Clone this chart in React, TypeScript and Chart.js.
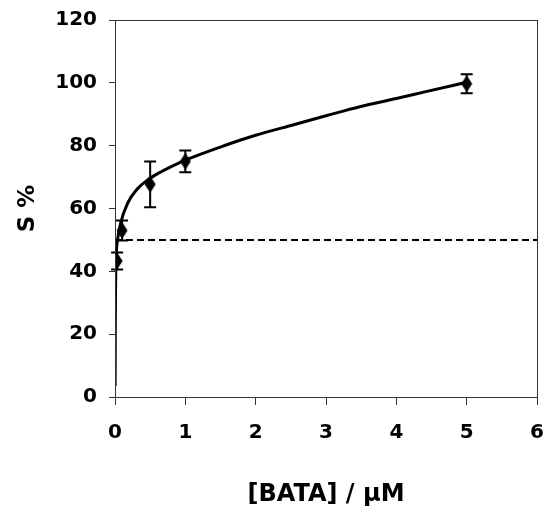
import { useEffect, useRef } from "react";
import { Chart, registerables } from "chart.js";

Chart.register(...registerables);

// Measured points
const concentrations = [0.03, 0.1, 0.5, 1, 5];
const sPercent = [43.3, 53, 67.7, 75, 99.7];
const sError = [2.7, 3.2, 7.3, 3.5, 3.0];

// Fitted curve
const fitX = [0.002, 0.004, 0.007, 0.011, 0.02, 0.036, 0.08, 0.18, 0.32, 0.46, 0.63, 0.75, 1, 1.58, 2, 2.53, 3, 3.48, 4, 4.42, 5.04];
const fitY = [3.5, 20, 33, 41, 46.5, 50, 55.3, 61.7, 66.3, 69, 71.4, 72.8, 75.4, 80.2, 83.3, 86.6, 89.5, 92.4, 95, 97.2, 100.4];

// Dashed reference line
const thresholdX = [0, 6];
const thresholdY = [50, 50];

const xTicks = [0, 1, 2, 3, 4, 5, 6];
const yTicks = [0, 20, 40, 60, 80, 100, 120];

const FONT = "'DejaVu Sans', sans-serif";

function makeDiamond(): HTMLCanvasElement {
  const c = document.createElement("canvas");
  const w = 12, h = 18;
  c.width = w;
  c.height = h;
  const g = c.getContext("2d")!;
  g.fillStyle = "#000";
  g.beginPath();
  g.moveTo(w / 2, 0.5);
  g.lineTo(w - 0.5, h / 2);
  g.lineTo(w / 2, h - 0.5);
  g.lineTo(0.5, h / 2);
  g.closePath();
  g.fill();
  return c;
}

const errorBarPlugin = {
  id: "errorBars",
  afterDatasetsDraw(chart: any) {
    const { ctx, scales } = chart;
    const xs = scales.x, ys = scales.y;
    ctx.save();
    ctx.strokeStyle = "#000";
    ctx.lineWidth = 2;
    for (let i = 0; i < concentrations.length; i++) {
      const px = xs.getPixelForValue(concentrations[i]);
      const pTop = ys.getPixelForValue(sPercent[i] + sError[i]);
      const pBot = ys.getPixelForValue(sPercent[i] - sError[i]);
      ctx.beginPath();
      ctx.moveTo(px, pTop);
      ctx.lineTo(px, pBot);
      ctx.moveTo(px - 6, pTop);
      ctx.lineTo(px + 6, pTop);
      ctx.moveTo(px - 6, pBot);
      ctx.lineTo(px + 6, pBot);
      ctx.stroke();
    }
    ctx.restore();
  },
};

const framePlugin = {
  id: "frame",
  afterDraw(chart: any) {
    const { ctx, chartArea } = chart;
    ctx.save();
    ctx.strokeStyle = "#333";
    ctx.lineWidth = 1;
    ctx.strokeRect(
      Math.round(chartArea.left) + 0.5,
      Math.round(chartArea.top) + 0.5,
      Math.round(chartArea.right - chartArea.left),
      Math.round(chartArea.bottom - chartArea.top)
    );
    ctx.restore();
  },
};

export default function App() {
  const ref = useRef<HTMLCanvasElement | null>(null);

  useEffect(() => {
    if (!ref.current) return;
    const diamond = makeDiamond();
    const chart = new Chart(ref.current, {
      type: "scatter",
      data: {
        datasets: [
          {
            label: "threshold",
            data: thresholdX.map((x, i) => ({ x, y: thresholdY[i] })),
            showLine: true,
            borderColor: "#000",
            borderWidth: 2,
            borderDash: [7, 4],
            pointRadius: 0,
          },
          {
            label: "fit",
            data: fitX.map((x, i) => ({ x, y: fitY[i] })),
            showLine: true,
            borderColor: "#000",
            borderWidth: 3,
            pointRadius: 0,
            cubicInterpolationMode: "monotone",
          } as any,
          {
            label: "S %",
            data: concentrations.map((x, i) => ({ x, y: sPercent[i] })),
            showLine: false,
            pointStyle: diamond,
            pointRadius: 6,
            backgroundColor: "#000",
            borderColor: "#000",
          },
        ],
      },
      options: {
        responsive: false,
        animation: false,
        layout: { padding: { top: 20, right: 6, left: 0, bottom: 0 } },
        plugins: {
          legend: { display: false },
          tooltip: { enabled: false },
        },
        scales: {
          x: {
            type: "linear",
            min: 0,
            max: 6,
            afterBuildTicks: (s: any) => {
              s.ticks = xTicks.map((v) => ({ value: v }));
            },
            afterFit: (s: any) => {
              s.height = 114;
              s.paddingLeft = 0;
              s.paddingRight = 0;
            },
            grid: {
              display: true,
              drawOnChartArea: false,
              drawTicks: true,
              tickLength: 8,
              color: "#333",
            },
            border: { display: true, color: "#333", width: 1 },
            ticks: {
              color: "#000",
              padding: 16,
              font: { family: FONT, size: 20, weight: "bold" },
            },
            title: {
              display: true,
              text: "[BATA] / µM",
              color: "#000",
              font: { family: FONT, size: 24, weight: "bold" },
              padding: { top: 0, bottom: 2 },
            },
          },
          y: {
            type: "linear",
            min: 0,
            max: 120,
            afterBuildTicks: (s: any) => {
              s.ticks = yTicks.map((v) => ({ value: v }));
            },
            afterFit: (s: any) => {
              s.width = 115;
              s.paddingTop = 0;
              s.paddingBottom = 0;
            },
            grid: {
              display: true,
              drawOnChartArea: false,
              drawTicks: true,
              tickLength: 6,
              color: "#333",
            },
            border: { display: true, color: "#333", width: 1 },
            ticks: {
              color: "#000",
              padding: 12,
              font: { family: FONT, size: 20, weight: "bold" },
            },
            title: {
              display: true,
              text: "S %",
              color: "#000",
              font: { family: FONT, size: 23, weight: "bold" },
              padding: { top: 14, bottom: 0 },
            },
          },
        },
      },
      plugins: [errorBarPlugin, framePlugin],
    });
    return () => chart.destroy();
  }, []);

  return (
    <canvas
      ref={ref}
      width={544}
      height={511}
      style={{ position: "absolute", left: 0, top: 0, display: "block" }}
    />
  );
}
